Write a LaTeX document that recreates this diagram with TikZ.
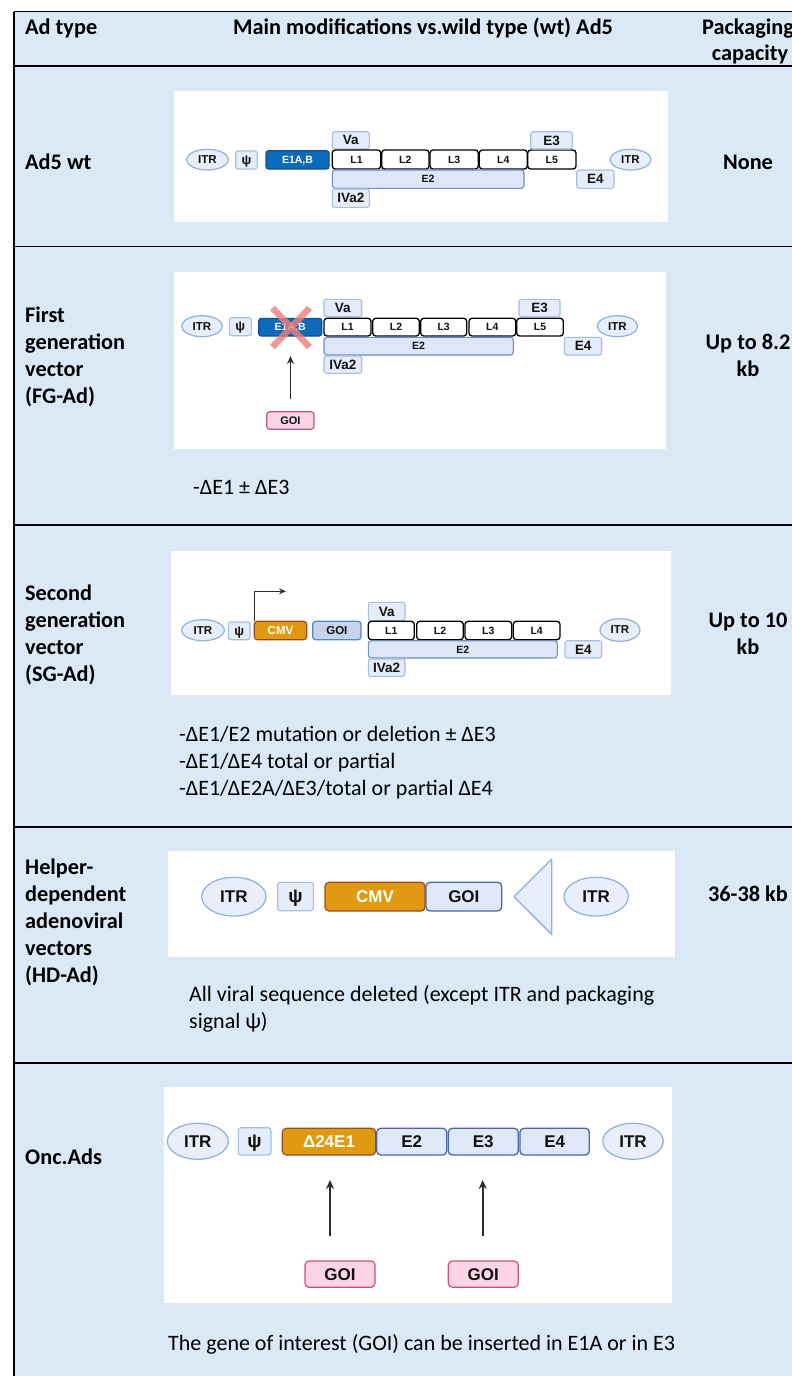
\documentclass[tikz,border=0pt]{standalone}
\usepackage{fontspec}
\setmainfont{Carlito}
\newfontfamily\gf{Liberation Sans}
\usetikzlibrary{arrows.meta,shapes.geometric}

\definecolor{tbl}{HTML}{DBE9F6}
\definecolor{itrF}{HTML}{E8EFFA}
\definecolor{itrD}{HTML}{8FB0DD}
\definecolor{smF}{HTML}{E4EDF9}
\definecolor{smD}{HTML}{A3BFE6}
\definecolor{e2F}{HTML}{DDE7F8}
\definecolor{e2D}{HTML}{6E8CC6}
\definecolor{e1F}{HTML}{0E6BBA}
\definecolor{e1D}{HTML}{0B4F8E}
\definecolor{cmvF}{HTML}{DF9A12}
\definecolor{cmvD}{HTML}{9B4A22}
\definecolor{goiF}{HTML}{C8D3EA}
\definecolor{goiD}{HTML}{4E86C8}
\definecolor{blF}{HTML}{E0E9FA}
\definecolor{blD}{HTML}{4A66AA}
\definecolor{pkF}{HTML}{FBD4E6}
\definecolor{pkD}{HTML}{C4547F}
\definecolor{xr}{HTML}{F07C7C}
\definecolor{arrc}{HTML}{2E2E2E}
\definecolor{txt}{HTML}{111111}

\newcommand\gfs[1]{\gf\bfseries\fontsize{#1}{#1}\selectfont}
\newcommand\gb[7]{\node[#2, minimum width={(#5)-(#3)}, minimum height={(#6)-(#4)}] (#1) at ({((#3)+(#5))/2},{((#4)+(#6))/2}) {#7};}
\newcommand\tl[4]{\node[#1, anchor=base west] (#2) at (#3) {#4};}
\newcommand\tc[4]{\node[#1, anchor=base] (#2) at (#3) {#4};}

\tikzset{
  g/.style={inner sep=0pt, outer sep=0pt, text depth=0pt, text=txt},
  itr/.style={g, ellipse, fill=itrF, draw=itrD, line width=1.2pt},
  sm/.style={g, rectangle, rounded corners=2.5pt, fill=smF, draw=smD, line width=1.1pt},
  lb/.style={g, rectangle, rounded corners=3pt, fill=white, draw=black, line width=1.3pt},
  e2b/.style={g, rectangle, rounded corners=3pt, fill=e2F, draw=e2D, line width=1.1pt},
  e1b/.style={g, rectangle, rounded corners=2.5pt, fill=e1F, draw=e1D, line width=1.1pt, text=white},
  cmvb/.style={g, rectangle, rounded corners=3pt, fill=cmvF, draw=cmvD, line width=1.2pt, text=white},
  goib/.style={g, rectangle, rounded corners=3pt, fill=goiF, draw=goiD, line width=1.2pt},
  blb/.style={g, rectangle, rounded corners=4pt, fill=blF, draw=blD, line width=1.3pt},
  pkb/.style={g, rectangle, rounded corners=3pt, fill=pkF, draw=pkD, line width=1.2pt},
  arr/.style={draw=arrc, line width=1.6pt, -{Stealth[length=9pt,width=8pt]}},
  hd/.style={inner sep=0pt, font=\bfseries\fontsize{22.3}{27}\selectfont, text=black},
  bt/.style={inner sep=0pt, font=\fontsize{22}{27}\selectfont, text=black},
  rule/.style={line width=1.1pt, black},
}

\begin{document}
\begin{tikzpicture}[x=1pt,y=-1pt]
\useasboundingbox (0,0) rectangle (792,1376);
\fill[white] (0,0) rectangle (792,1376);
\fill[tbl] (14,11.5) rectangle (792,1376);
\foreach \yy in {11.5,66,246.5,525,827,1063} \draw[rule] (14,\yy) -- (792,\yy);
\draw[rule] (14,11.5) -- (14,1376);

% header
\tl{hd}{h1}{25,34}{Ad type}
\tl{hd}{h2}{233,34}{Main modifications vs.wild type (wt) Ad5}
\tc{hd}{h3}{748,34}{Packaging}
\tc{hd}{h4}{750,60}{capacity}

% row labels
\tl{hd}{r1}{25,169}{Ad5 wt}
\tl{hd}{r2a}{25,322.5}{First}
\tl{hd}{r2b}{25,349.5}{generation}
\tl{hd}{r2c}{25,376.5}{vector}
\tl{hd}{r2d}{25,403.5}{(FG-Ad)}
\tl{hd}{r3a}{25,600.5}{Second}
\tl{hd}{r3b}{25,627.5}{generation}
\tl{hd}{r3c}{25,654.5}{vector}
\tl{hd}{r3d}{25,681.5}{(SG-Ad)}
\tl{hd}{r4a}{25,874.5}{Helper-}
\tl{hd}{r4b}{25,901.5}{dependent}
\tl{hd}{r4c}{25,928.5}{adenoviral}
\tl{hd}{r4d}{25,955.5}{vectors}
\tl{hd}{r4e}{25,982.5}{(HD-Ad)}
\tl{hd}{r5}{25,1164}{Onc.Ads}

% capacity column
\tc{hd}{c1}{748,169}{None}
\tc{hd}{c2a}{748,349.5}{Up to 8.2}
\tc{hd}{c2b}{748,376.5}{kb}
\tc{hd}{c3a}{748,627.5}{Up to 10}
\tc{hd}{c3b}{748,654.5}{kb}
\tc{hd}{c4}{748,901.5}{36-38 kb}

% ---------- panel 1: Ad5 wt
\fill[white] (174,91) rectangle (668,222);
\gb{itrA1}{itr,font=\gfs{11.5}}{186.7}{149.3}{228.3}{170}{ITR}
\gb{psiA}{sm,font=\gfs{13}}{235.7}{151}{257.3}{169}{ψ}
\gb{e1A}{e1b,font=\gfs{10.5}}{266}{150.7}{329}{169}{E1A,B}
\gb{vaA}{sm,font=\gfs{13.5}}{332.3}{131.7}{369.3}{149}{Va}
\gb{l1A}{lb,font=\gfs{10.5}}{332.3}{150}{380.7}{169}{L1}
\gb{l2A}{lb,font=\gfs{10.5}}{381.7}{150}{429}{169}{L2}
\gb{l3A}{lb,font=\gfs{10.5}}{430}{150}{478.3}{169}{L3}
\gb{l4A}{lb,font=\gfs{10.5}}{479.3}{150}{527.3}{169}{L4}
\gb{l5A}{lb,font=\gfs{10.5}}{527.7}{150}{576}{169}{L5}
\gb{e2A}{e2b,font=\gfs{10.5}}{332.3}{170}{524}{188.3}{E2}
\gb{ivA}{sm,font=\gfs{13.5}}{332.3}{189}{369.3}{207.3}{IVa2}
\gb{e3A}{sm,font=\gfs{13.5}}{530.7}{131.7}{572.3}{149}{E3}
\gb{e4A}{sm,font=\gfs{13.5}}{576.7}{170}{614}{188.3}{E4}
\gb{itrA2}{itr,font=\gfs{11.5}}{610}{149.3}{651}{170}{ITR}

% ---------- panel 2: FG-Ad
\fill[white] (174,272) rectangle (666,449);
\gb{itrB1}{itr,font=\gfs{11.5}}{181.7}{315.7}{222.3}{336.7}{ITR}
\gb{psiB}{sm,font=\gfs{13}}{229.3}{317.7}{251.3}{335.7}{ψ}
\gb{e1B}{e1b,font=\gfs{10.5}}{258.7}{318.3}{321.7}{336}{E1A,B}
\draw[xr, opacity=.8, line width=6.5pt] (272.5,308) -- (309.5,347) (272.5,347) -- (309.5,308);
\gb{vaB}{sm,font=\gfs{13.5}}{324}{299.3}{361.7}{316.7}{Va}
\gb{l1B}{lb,font=\gfs{10.5}}{324}{318.3}{371}{336}{L1}
\gb{l2B}{lb,font=\gfs{10.5}}{372.7}{318.3}{419.3}{336}{L2}
\gb{l3B}{lb,font=\gfs{10.5}}{420.7}{318.3}{466.7}{336}{L3}
\gb{l4B}{lb,font=\gfs{10.5}}{469}{318.3}{515.7}{336}{L4}
\gb{l5B}{lb,font=\gfs{10.5}}{516.7}{318.3}{563.3}{336}{L5}
\gb{e2B}{e2b,font=\gfs{10.5}}{324}{337.3}{513.3}{355}{E2}
\gb{ivB}{sm,font=\gfs{13.5}}{324}{356}{361.7}{373.3}{IVa2}
\gb{e3B}{sm,font=\gfs{13.5}}{519}{299.3}{560}{316.7}{E3}
\gb{e4B}{sm,font=\gfs{13.5}}{564.3}{337.3}{601.7}{355}{E4}
\gb{itrB2}{itr,font=\gfs{11.5}}{597.3}{315.7}{637.7}{336.7}{ITR}
\gb{goiB}{pkb,font=\gfs{11}}{266.7}{411.7}{314}{429.3}{GOI}
\coordinate (aB) at (290.5,356);
\draw[arr, line width=1.4pt, -{Stealth[length=8pt,width=7pt]}, shorten <=13pt] (goiB.north -| aB) -- (aB);
\tl{bt}{tB}{193,494.5}{-ΔE1 ± ΔE3}

% ---------- panel 3: SG-Ad
\fill[white] (171,551) rectangle (671,695);
\gb{itrC1}{itr,font=\gfs{11.5}}{181.7}{619.7}{224.3}{640.7}{ITR}
\gb{psiC}{sm,font=\gfs{13}}{228.3}{622}{250}{639.7}{ψ}
\gb{cmvC}{cmvb,font=\gfs{11.5}}{254.3}{621.3}{306.7}{639.7}{CMV}
\gb{goiC}{goib,font=\gfs{11.5}}{312.7}{621.3}{361}{639.7}{GOI}
\coordinate (pC) at (286,591.3);
\draw[arr, line width=1.4pt, -{Stealth[length=7pt,width=6pt]}] (cmvC.north west) |- (pC);
\gb{vaC}{sm,font=\gfs{13.5}}{368.3}{602.3}{405}{620.7}{Va}
\gb{l1C}{lb,font=\gfs{10.5}}{368.3}{621.3}{414.3}{639.7}{L1}
\gb{l2C}{lb,font=\gfs{10.5}}{416.7}{621.3}{463.3}{639.7}{L2}
\gb{l3C}{lb,font=\gfs{10.5}}{465}{621.3}{511.7}{639.7}{L3}
\gb{l4C}{lb,font=\gfs{10.5}}{513.3}{621.3}{560}{639.7}{L4}
\gb{e2C}{e2b,font=\gfs{10.5}}{368.3}{640.7}{557.3}{658}{E2}
\gb{ivC}{sm,font=\gfs{13.5}}{368.3}{659}{405}{676.3}{IVa2}
\gb{e4C}{sm,font=\gfs{13.5}}{565}{640.7}{601.7}{658}{E4}
\gb{itrC2}{itr,font=\gfs{11.5}}{600}{618.7}{640}{641.3}{ITR}
\tl{bt}{tC1}{179,741.5}{-ΔE1/E2 mutation or deletion ± ΔE3}
\tl{bt}{tC2}{179,768.5}{-ΔE1/ΔE4 total or partial}
\tl{bt}{tC3}{179,795.5}{-ΔE1/ΔE2A/ΔE3/total or partial ΔE4}

% ---------- panel 4: HD-Ad
\fill[white] (168,851) rectangle (675,957);
\gb{itrD1}{itr,font=\gfs{17}}{201.7}{877.3}{266}{916}{ITR}
\gb{psiD}{sm,font=\gfs{19}}{277.7}{882.3}{313.3}{910.7}{ψ}
\gb{cmvD}{cmvb,font=\gfs{17},rounded corners=4pt}{325}{882.3}{425}{911}{CMV}
\gb{goiD}{blb,font=\gfs{17}}{426}{882.3}{501.7}{911}{GOI}
\filldraw[fill=itrF, draw=itrD, line width=1.3pt, line join=round] (514,896.7) -- (551.7,859) -- (551.7,934.3) -- cycle;
\gb{itrD2}{itr,font=\gfs{17}}{564}{877.3}{628.3}{916}{ITR}
\tl{bt}{tD1}{189,1001.5}{All viral sequence deleted (except ITR and packaging}
\tl{bt}{tD2}{189,1028.5}{signal ψ)}

% ---------- panel 5: Onc.Ads
\fill[white] (164,1087) rectangle (672,1303);
\gb{itrE1}{itr,font=\gfs{17}}{167.3}{1123.3}{228.3}{1159.3}{ITR}
\gb{psiE}{sm,font=\gfs{19}}{238.3}{1127.7}{271}{1155}{ψ}
\gb{d24E}{cmvb,font=\gfs{17},rounded corners=4pt}{282.3}{1128.3}{375.7}{1155}{Δ24E1}
\gb{e2E}{blb,font=\gfs{17}}{376.7}{1128.3}{446.7}{1155}{E2}
\gb{e3E}{blb,font=\gfs{17}}{448.3}{1128.3}{518.3}{1155}{E3}
\gb{e4E}{blb,font=\gfs{17}}{520}{1128.3}{589.3}{1155}{E4}
\gb{itrE2}{itr,font=\gfs{17}}{602.7}{1123.3}{663.3}{1159.3}{ITR}
\gb{goiE1}{pkb,font=\gfs{17},rounded corners=4pt}{305}{1261}{375}{1287.3}{GOI}
\gb{goiE2}{pkb,font=\gfs{17},rounded corners=4pt}{448.3}{1261}{518.3}{1287.3}{GOI}
\coordinate (aE1) at (330,1180);
\coordinate (aE2) at (482.7,1180);
\draw[arr, shorten <=25pt] (goiE1.north -| aE1) -- (aE1);
\draw[arr, shorten <=25pt] (goiE2.north -| aE2) -- (aE2);
\tl{bt}{tE}{168,1350.5}{The gene of interest (GOI) can be inserted in E1A or in E3}
\end{tikzpicture}
\end{document}
